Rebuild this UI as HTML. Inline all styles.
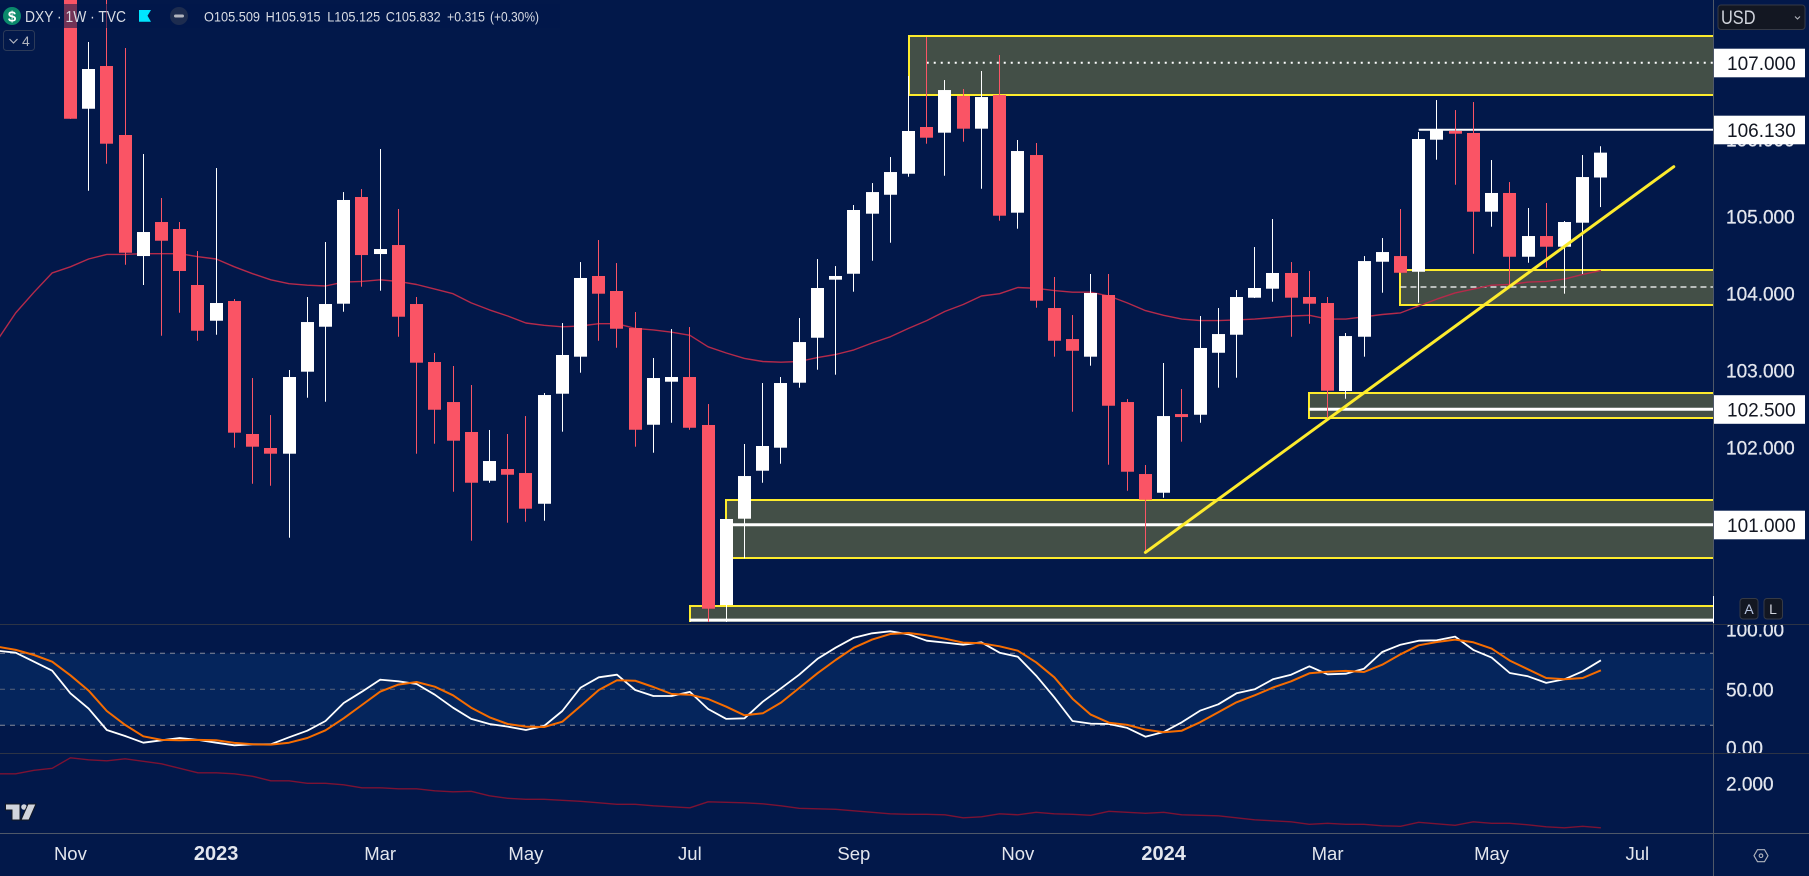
<!DOCTYPE html>
<html lang="en">
<head>
<meta charset="utf-8">
<title>DXY 1W chart</title>
<style>
html,body{margin:0;padding:0;background:#02184a;width:1809px;height:876px;overflow:hidden}
svg{display:block;font-family:"Liberation Sans",Arial,sans-serif}
</style>
</head>
<body>
<svg id="chart" xmlns="http://www.w3.org/2000/svg" width="1809" height="876" viewBox="0 0 1809 876">
  <defs>
    <clipPath id="main-clip"><rect x="0" y="0" width="1713" height="622"/></clipPath>
    <clipPath id="stoch-clip"><rect x="0" y="625" width="1713" height="128"/></clipPath>
    <clipPath id="lower-clip"><rect x="0" y="754" width="1713" height="79"/></clipPath>
    <clipPath id="stoch-axis-clip"><rect x="1714" y="625" width="95" height="128"/></clipPath>
  </defs>
  <rect x="0" y="0" width="1809" height="876" fill="#02184a"/>

  <g id="zones" clip-path="url(#main-clip)"></g>
  <g id="levels" clip-path="url(#main-clip)"></g>
  <g id="ma" clip-path="url(#main-clip)"></g>
  <g id="candles" clip-path="url(#main-clip)"></g>
  <g id="trend" clip-path="url(#main-clip)"></g>

  <rect x="0" y="4" width="560" height="24" fill="#02184a" opacity="0.55"/>

  <g>
    <circle cx="12" cy="16" r="9" fill="#0b8a6c"/>
    <text x="12" y="21.5" text-anchor="middle" font-size="15" font-weight="bold" fill="#ffffff">$</text>
    <text x="25" y="22" font-size="15.5" fill="#d9dce4" textLength="101" lengthAdjust="spacingAndGlyphs">DXY · 1W · TVC</text>
    <polygon points="139,10 151,10 147.5,15.8 151,21.7 139,21.7" fill="#00e5ff"/>
    <circle cx="179" cy="16" r="9" fill="#1d2c4f"/>
    <rect x="174" y="14.5" width="10" height="3" rx="1.5" fill="#b2b5be"/>
    <text x="204" y="21.5" font-size="14" fill="#d9dce4" textLength="56" lengthAdjust="spacingAndGlyphs">O105.509</text>
    <text x="265.6" y="21.5" font-size="14" fill="#d9dce4" textLength="55" lengthAdjust="spacingAndGlyphs">H105.915</text>
    <text x="327.2" y="21.5" font-size="14" fill="#d9dce4" textLength="53" lengthAdjust="spacingAndGlyphs">L105.125</text>
    <text x="385.7" y="21.5" font-size="14" fill="#d9dce4" textLength="55" lengthAdjust="spacingAndGlyphs">C105.832</text>
    <text x="447" y="21.5" font-size="14" fill="#d9dce4" textLength="38" lengthAdjust="spacingAndGlyphs">+0.315</text>
    <text x="490" y="21.5" font-size="14" fill="#d9dce4" textLength="49" lengthAdjust="spacingAndGlyphs">(+0.30%)</text>
    <rect x="3.5" y="30.5" width="31" height="20" rx="3" fill="#02184a" stroke="#2c3a58"/>
    <polyline points="9.5,39 13.5,43 17.5,39" fill="none" stroke="#b2b5be" stroke-width="1.2"/>
    <text x="22" y="46" font-size="14" fill="#b2b5be">4</text>
  </g>

  <rect x="0" y="653.3" width="1713" height="72" fill="#05255c"/>
  <g id="stochGuides"></g>
  <g id="stoch" clip-path="url(#stoch-clip)"></g>
  <g id="lower" clip-path="url(#lower-clip)"></g>

  <g>
    <path d="M5.5 804H20V820H12V810H5.5Z" fill="#d1d4dc" stroke="#131722" stroke-width="1"/>
    <circle cx="24" cy="807" r="2.8" fill="#d1d4dc"/>
    <path d="M28 804H36L29 820H21Z" fill="#d1d4dc" stroke="#131722" stroke-width="1"/>
  </g>

  <line x1="0" y1="624.5" x2="1809" y2="624.5" stroke="#2d3445"/>
  <line x1="0" y1="753.5" x2="1809" y2="753.5" stroke="#2d3445"/>
  <line x1="0" y1="833.5" x2="1809" y2="833.5" stroke="#4f5868"/>
  <line x1="1713.5" y1="0" x2="1713.5" y2="876" stroke="#4f5868"/>
  <line x1="1713.5" y1="596" x2="1713.5" y2="623" stroke="#ffffff"/>

  <g id="priceAxis"></g>
  <g id="tagAxis"></g>
  <g id="stochAxis" clip-path="url(#stoch-axis-clip)"></g>
  <g id="lowerAxis"></g>
  <g id="timeAxis"></g>

  <g>
    <rect x="1718" y="5" width="87" height="24.5" rx="3" fill="#131722" stroke="#363a45"/>
    <text x="1721" y="24" font-size="19" fill="#d1d4dc" textLength="34.5" lengthAdjust="spacingAndGlyphs">USD</text>
    <polyline points="1795,16.5 1797.5,19 1800,16.5" fill="none" stroke="#b2b5be" stroke-width="1.1"/>
  </g>
  <g>
    <rect x="1740" y="598.5" width="18" height="20.5" rx="3" fill="#131722" stroke="#363a45"/>
    <text x="1749" y="614" text-anchor="middle" font-size="14" fill="#b8c4e0">A</text>
  </g>
  <g>
    <rect x="1764" y="598.5" width="18.5" height="20.5" rx="3" fill="#131722" stroke="#363a45"/>
    <text x="1773" y="614" text-anchor="middle" font-size="14" fill="#d1d4dc">L</text>
  </g>
  <g>
    <polygon points="1754,855.7 1757.5,849.7 1764.5,849.7 1768,855.7 1764.5,861.7 1757.5,861.7" fill="none" stroke="#b2b5be" stroke-width="1.1"/>
    <circle cx="1761" cy="855.7" r="1.8" fill="none" stroke="#b2b5be" stroke-width="1.1"/>
  </g>
</svg>

<script>
const barOpen=[108.33,106.402,106.957,106.061,104.489,104.931,104.84,104.113,103.649,103.905,102.178,101.996,101.922,102.987,103.571,103.87,105.256,104.515,104.632,103.866,103.113,102.593,102.204,101.571,101.723,101.671,101.272,102.701,103.182,104.23,104.035,103.554,102.298,102.857,102.918,102.295,99.957,101.078,101.701,102.0,102.844,103.428,104.182,104.259,105.039,105.285,105.558,106.165,106.091,106.567,106.143,106.58,105.052,105.801,103.814,103.411,103.182,103.983,102.593,101.658,101.415,102.437,102.428,103.233,103.467,103.948,104.065,104.269,103.957,103.879,102.736,103.441,104.415,104.489,104.285,106.0,106.113,106.087,105.065,105.308,104.48,104.749,104.61,104.922,105.509];
const barHigh=[108.59,107.269,108.33,107.191,105.814,105.243,104.931,104.554,105.632,103.931,102.905,102.424,103.009,103.957,104.671,105.32,105.359,105.879,105.1,103.957,103.23,103.061,102.814,102.23,102.178,102.411,102.71,103.619,104.411,104.697,104.398,103.762,103.165,103.541,103.567,102.567,101.074,102.048,102.84,102.918,103.684,104.45,104.359,105.152,105.437,105.775,106.827,107.333,106.775,106.658,106.892,107.1,105.996,105.957,104.217,103.723,104.256,104.256,102.632,101.775,103.1,102.762,103.71,103.814,104.048,104.606,104.97,104.411,104.295,103.957,103.489,104.489,104.723,105.1,106.1,106.515,106.385,106.489,105.736,105.45,105.113,105.178,104.944,105.801,105.915];
const barLow=[106.27,105.337,105.688,104.376,104.113,103.454,103.753,103.389,103.467,102.0,101.532,101.506,100.831,102.649,102.597,103.766,104.091,104.039,103.441,101.922,102.052,101.428,100.792,101.545,101.026,101.039,101.052,102.208,102.974,103.389,103.298,102.013,101.935,102.324,102.233,99.723,99.736,100.563,101.545,101.792,102.779,103.013,102.948,104.026,104.428,104.662,105.519,105.948,105.532,105.974,105.363,104.948,104.844,103.818,103.182,102.467,103.065,101.779,101.441,100.628,101.35,102.078,102.324,102.779,102.909,103.944,103.896,103.441,103.61,102.359,102.636,103.182,104.013,104.272,103.883,105.74,105.415,104.519,104.87,104.091,104.402,104.337,104.0,104.256,105.125];
const barClose=[106.272,106.918,105.948,104.532,104.801,104.688,104.295,103.519,103.879,102.195,102.013,101.922,102.918,103.632,103.866,105.217,104.502,104.58,103.701,103.104,102.493,102.091,101.545,101.827,101.649,101.208,102.684,103.204,104.204,104.0,103.545,102.233,102.905,102.918,102.259,99.909,101.074,101.632,102.022,102.84,103.372,104.074,104.23,105.087,105.32,105.58,106.113,106.026,106.645,106.143,106.554,105.013,105.853,103.909,103.389,103.259,104.009,102.545,101.688,101.324,102.411,102.398,103.295,103.476,103.957,104.074,104.269,103.948,103.87,102.74,103.45,104.424,104.541,104.272,106.009,106.126,106.078,105.065,105.308,104.48,104.749,104.61,104.931,105.515,105.832];

const indicatorStartBar=-4;
const maValues=[103.40,103.75,104.02,104.27,104.35,104.45,104.51,104.51,104.52,104.52,104.52,104.48,104.45,104.35,104.26,104.18,104.13,104.11,104.10,104.15,104.16,104.18,104.16,104.12,104.06,104.00,103.88,103.79,103.71,103.62,103.59,103.57,103.58,103.61,103.61,103.55,103.53,103.50,103.46,103.31,103.23,103.16,103.12,103.11,103.12,103.17,103.21,103.27,103.36,103.44,103.55,103.65,103.77,103.86,103.97,104.00,104.08,104.07,104.04,104.02,104.02,103.97,103.88,103.78,103.72,103.67,103.65,103.65,103.66,103.67,103.69,103.71,103.72,103.67,103.67,103.70,103.73,103.75,103.84,103.93,104.01,104.06,104.11,104.12,104.15,104.16,104.19,104.25,104.30];
const stochK=[82.2,80.5,73.0,65.5,46.7,33.9,16.1,11.1,5.5,7.5,9.4,7.8,5.5,3.3,4.2,4.2,10.0,15.5,23.6,38.6,48.0,58.0,56.7,54.4,45.5,34.7,25.3,21.1,18.9,16.1,19.4,31.9,51.4,60.0,62.2,49.4,44.4,44.4,47.8,33.6,25.3,25.8,39.7,50.8,62.2,75.3,84.7,93.0,96.7,98.3,95.8,90.5,88.9,87.2,89.2,80.5,77.2,61.4,43.3,23.6,21.4,21.1,17.8,10.5,14.4,22.5,32.2,37.5,46.7,50.0,58.3,62.2,69.2,62.5,63.0,67.2,81.1,87.2,90.5,90.8,93.9,82.8,76.4,63.6,60.8,55.3,58.3,65.0,74.2];
const stochD=[85.5,82.8,78.6,73.0,61.7,48.9,31.9,20.3,10.8,7.8,7.5,7.8,7.5,5.3,4.2,3.9,5.5,9.4,15.8,25.8,36.9,48.0,53.9,56.1,52.2,45.0,34.7,26.7,21.1,18.9,18.6,23.0,36.1,49.4,57.5,57.2,51.9,46.1,45.5,41.9,35.5,28.3,30.0,38.9,51.1,63.3,74.4,84.7,91.4,96.1,96.9,95.0,92.2,88.9,88.3,85.8,82.2,72.5,60.0,42.2,28.9,22.2,20.3,16.4,14.2,15.5,22.5,30.8,39.2,45.0,51.4,56.7,63.3,64.7,65.3,64.4,70.5,79.2,86.7,89.4,91.4,89.2,83.9,73.9,66.7,59.4,58.3,59.4,65.8];
const lowerValues=[2.19,2.19,2.26,2.30,2.51,2.47,2.45,2.49,2.44,2.39,2.30,2.21,2.21,2.19,2.14,2.05,2.05,2.00,2.00,1.97,1.91,1.91,1.89,1.89,1.85,1.83,1.84,1.75,1.70,1.68,1.68,1.66,1.64,1.61,1.58,1.58,1.55,1.53,1.51,1.63,1.62,1.61,1.59,1.55,1.50,1.49,1.48,1.45,1.42,1.39,1.38,1.38,1.37,1.31,1.33,1.39,1.37,1.42,1.39,1.38,1.36,1.44,1.42,1.40,1.42,1.37,1.36,1.35,1.31,1.27,1.25,1.23,1.18,1.20,1.18,1.18,1.15,1.14,1.22,1.19,1.16,1.23,1.20,1.20,1.17,1.13,1.11,1.14,1.11];

const priceTicks=[106,105,104,103,102];
const priceTags=[107,106.13,102.5,101];
const stochTicks=[100,50,0];
const stochGuides=[80,50,20];
const lowerTicks=[2];
const timeLabels=["Nov","2023","Mar","May","Jul","Sep","Nov","2024","Mar","May","Jul"];
const timeBars=[0,8,17,25,34,43,52,60,69,78,86];

const zoneStartBars=[46,73,68,36,34];
const zoneTops=[107.35,104.31,102.71,101.32,99.95];
const zoneBottoms=[106.58,103.857,102.38,100.57,99.4];
const levelPrices=[107,104.087,106.13,102.5,101,99.76];
const levelStartBars=[47,73,74,68,36,34];
const levelKinds=["dotted","dashed","solid2","solid3","solid3","solid3"];
const trendBars=[59,88];
const trendPrices=[100.64,105.65];

const NS="http://www.w3.org/2000/svg";
function barX(i){return 70.4+18.22*i;}
function priceY(p){return 62.7+(107-p)*77;}
function stochY(v){return 749.3-1.2*v;}
function lowerY(v){return 783.3+(2-v)*50;}
function make(tag,props,parent){
  const el=document.createElementNS(NS,tag);
  for(const k in props){el.setAttribute(k,props[k]);}
  parent.appendChild(el);
  return el;
}
function linePoints(values,yFn){
  return values.map(function(v,n){return barX(n+indicatorStartBar).toFixed(1)+","+yFn(v).toFixed(1);}).join(" ");
}

const zonesG=document.getElementById("zones");
zoneStartBars.forEach(function(b,n){
  const left=Math.round(barX(b))-0;
  const top=Math.round(priceY(zoneTops[n]));
  const bottom=Math.round(priceY(zoneBottoms[n]));
  const el=make("rect",{x:left,y:top,width:1760-left,height:bottom-top,fill:"#434f47",stroke:"#fdeb2d","stroke-width":2,"shape-rendering":"crispEdges"},zonesG);
  
  
});

const levelsG=document.getElementById("levels");
levelPrices.forEach(function(p,n){
  const kind=levelKinds[n];
  const widths={dotted:2,dashed:1.3,solid2:2,solid3:3};
  const props={x1:barX(levelStartBars[n]),x2:1713,y1:priceY(p),y2:priceY(p),stroke:"#ffffff","stroke-width":widths[kind]};
  if(kind==="dotted"){props["stroke-dasharray"]="2 5";}
  if(kind==="dashed"){props["stroke-dasharray"]="6 4";}
  const el=make("line",props,levelsG);
  
  
});

const maG=document.getElementById("ma");
const maLine=make("polyline",{points:linePoints(maValues,priceY),fill:"none",stroke:"#b52a4a","stroke-width":1.4,"stroke-linejoin":"round"},maG);



const candlesG=document.getElementById("candles");
barOpen.forEach(function(o,i){
  const c=barClose[i];
  const up=c>=o;
  const col=up?"#ffffff":"#fa5465";
  const left=Math.round(barX(i)-6.5);
  const top=priceY(Math.max(o,c));
  const bot=priceY(Math.min(o,c));
  const wick=make("rect",{x:left+6,y:priceY(barHigh[i]),width:1,height:priceY(barLow[i])-priceY(barHigh[i]),fill:col},candlesG);
  
  
  const body=make("rect",{x:left,y:top,width:13,height:Math.max(bot-top,1),fill:col},candlesG);
  
  
});

const trendG=document.getElementById("trend");
const trendLine=make("line",{x1:barX(trendBars[0]),y1:priceY(trendPrices[0]),x2:barX(trendBars[1]),y2:priceY(trendPrices[1]),stroke:"#fdeb2d","stroke-width":3,"stroke-linecap":"round"},trendG);



const guidesG=document.getElementById("stochGuides");
stochGuides.forEach(function(v){
  const el=make("line",{x1:0,x2:1713,y1:stochY(v),y2:stochY(v),stroke:v===50?"#5a6479":"#858a99","stroke-width":1,"stroke-dasharray":"5 5"},guidesG);
  
  
});

const stochG=document.getElementById("stoch");
const kLine=make("polyline",{points:linePoints(stochK,stochY),fill:"none",stroke:"#ffffff","stroke-width":1.8,"stroke-linejoin":"round"},stochG);


const dLine=make("polyline",{points:linePoints(stochD,stochY),fill:"none",stroke:"#f66c00","stroke-width":2,"stroke-linejoin":"round"},stochG);



const lowerG=document.getElementById("lower");
const lowLine=make("polyline",{points:linePoints(lowerValues,lowerY),fill:"none",stroke:"#7c1233","stroke-width":1.4,"stroke-linejoin":"round"},lowerG);



const axisColor="#e3e6ee";
const priceAxisG=document.getElementById("priceAxis");
priceTicks.forEach(function(p){
  const el=make("text",{x:1726,y:priceY(p)+7,"font-size":19,fill:axisColor,stroke:axisColor,"stroke-width":0.25},priceAxisG);
  el.textContent=p.toFixed(3);
  
  
});
const tagG=document.getElementById("tagAxis");
priceTags.forEach(function(p){
  const y=priceY(p);
  const box=make("rect",{x:1714,y:y-14,width:91,height:28.6,fill:"#ffffff"},tagG);
  
  
  const t=make("text",{x:1727,y:y+7.5,"font-size":19,fill:"#131722"},tagG);
  t.textContent=p.toFixed(3);
  
  
});
const stochAxisG=document.getElementById("stochAxis");
stochTicks.forEach(function(v){
  const nudge=v===0?-2:0;
  const el=make("text",{x:1726,y:stochY(v)+7+nudge,"font-size":19,fill:axisColor,stroke:axisColor,"stroke-width":0.25},stochAxisG);
  el.textContent=v.toFixed(2);
  
  
});
const lowerAxisG=document.getElementById("lowerAxis");
lowerTicks.forEach(function(v){
  const el=make("text",{x:1726,y:lowerY(v)+7,"font-size":19,fill:axisColor,stroke:axisColor,"stroke-width":0.25},lowerAxisG);
  el.textContent=v.toFixed(3);
  
  
});
const timeAxisG=document.getElementById("timeAxis");
timeLabels.forEach(function(label,n){
  const isYear=/^\d+$/.test(label);
  const el=make("text",{x:barX(timeBars[n]),y:860,"text-anchor":"middle","font-size":isYear?20:18.5,"font-weight":isYear?"bold":"normal",fill:axisColor},timeAxisG);
  el.textContent=label;
  
  
});
</script>
</body>
</html>
